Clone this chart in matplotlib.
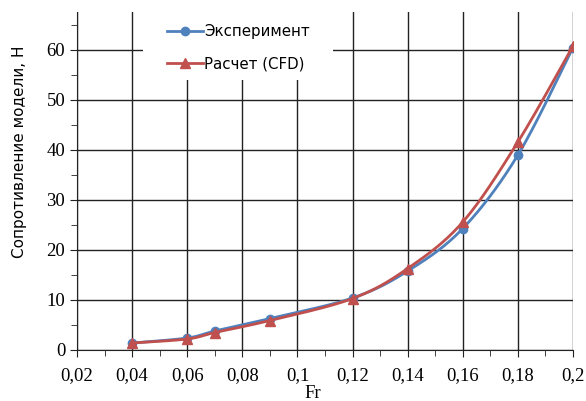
import matplotlib.pyplot as plt
import numpy as np
from matplotlib.patches import Rectangle
from matplotlib.ticker import MultipleLocator, FuncFormatter

# data ________________________________________________________________________
fr = [0.04, 0.06, 0.07, 0.09, 0.12, 0.14, 0.16, 0.18, 0.20]
eksperiment = [1.4, 2.4, 3.8, 6.3, 10.4, 15.8, 24.3, 39.0, 60.5]
raschet = [1.4, 2.2, 3.5, 5.9, 10.3, 16.3, 25.6, 41.6, 60.8]

blue = '#4F81BD'
red = '#C0504D'
W, H = 586, 401


def smooth(x, y, sx=0.18, sy=68.0, n=30):
    # excel-like smoothing: catmull-rom through the points (in scaled space)
    p = np.column_stack([np.array(x) / sx, np.array(y) / sy])
    p = np.vstack([p[0], p, p[-1]])
    out = []
    t = np.linspace(0, 1, n)[:, None]
    for i in range(1, len(p) - 2):
        p0, p1, p2, p3 = p[i - 1], p[i], p[i + 1], p[i + 2]
        c1 = p1 + (p2 - p0) / 6
        c2 = p2 - (p3 - p1) / 6
        seg = ((1 - t) ** 3) * p1 + 3 * ((1 - t) ** 2) * t * c1 + 3 * (1 - t) * t ** 2 * c2 + t ** 3 * p2
        out.append(seg)
    out = np.vstack(out)
    return out[:, 0] * sx, out[:, 1] * sy


fig = plt.figure(figsize=(W / 100, H / 100), dpi=100)
ax = fig.add_axes([77 / W, 1 - 350 / H, (573 - 77) / W, (350 - 12) / H])

xs, ys = smooth(fr, eksperiment)
ax.plot(xs, ys, color=blue, lw=2, zorder=3)
ax.plot(fr, eksperiment, 'o', color=blue, ms=6, zorder=3)
xs, ys = smooth(fr, raschet)
ax.plot(xs, ys, color=red, lw=2, zorder=4)
ax.plot(fr, raschet, '^', color=red, ms=6.5, zorder=4)

# white area behind the legend (covers the grid)
ax.add_patch(Rectangle((143 / W, 1 - 80 / H), (333 - 143) / W, (80 - 12) / H, transform=fig.transFigure,
                       facecolor='white', edgecolor='none', zorder=2, clip_on=False))

# legend handles
ax.plot([], [], '-o', color=blue, lw=2, ms=6, label='Эксперимент')
ax.plot([], [], '-^', color=red, lw=2, ms=6.5, label='Расчет (CFD)')
leg = ax.legend(loc='center left', bbox_to_anchor=(153 / W, 1 - 48 / H), bbox_transform=fig.transFigure,
                frameon=False, handlelength=2.4, handletextpad=0.1, labelspacing=1.15,
                prop={'family': 'DejaVu Sans', 'size': 10.8})
leg.set_zorder(5)

ax.set_xlim(0.02, 0.2)
ax.set_ylim(0, 67.6)
ax.xaxis.set_major_locator(MultipleLocator(0.02))
ax.xaxis.set_minor_locator(MultipleLocator(0.01))
ax.yaxis.set_major_locator(MultipleLocator(10))
ax.yaxis.set_minor_locator(MultipleLocator(5))
ax.xaxis.set_major_formatter(FuncFormatter(lambda v, p: ('%g' % round(v, 3)).replace('.', ',')))
ax.yaxis.set_major_formatter(FuncFormatter(lambda v, p: '%d' % v))

ax.grid(True, which='major', color='#222222', lw=1.0, zorder=0)
ax.set_axisbelow(True)
for s in ['top', 'right']:
    ax.spines[s].set_visible(False)
for s in ['left', 'bottom']:
    ax.spines[s].set_color('#222222')
ax.tick_params(which='major', length=5, direction='out', color='#222222')
ax.tick_params(which='minor', length=4, direction='out', color='#222222')
ax.tick_params(axis='x', pad=7)
for lab in ax.get_xticklabels() + ax.get_yticklabels():
    lab.set_family('Liberation Serif')
    lab.set_fontsize(13.5)

fig.text(313 / W, 1 - 393 / H, 'Fr', family='Liberation Serif', fontsize=13.5, ha='center', va='center')
fig.text(20 / W, 1 - 152 / H, 'Сопротивление модели, Н', family='DejaVu Sans', fontsize=11,
         rotation=90, ha='center', va='center')

fig.savefig('out.png', dpi=100)
